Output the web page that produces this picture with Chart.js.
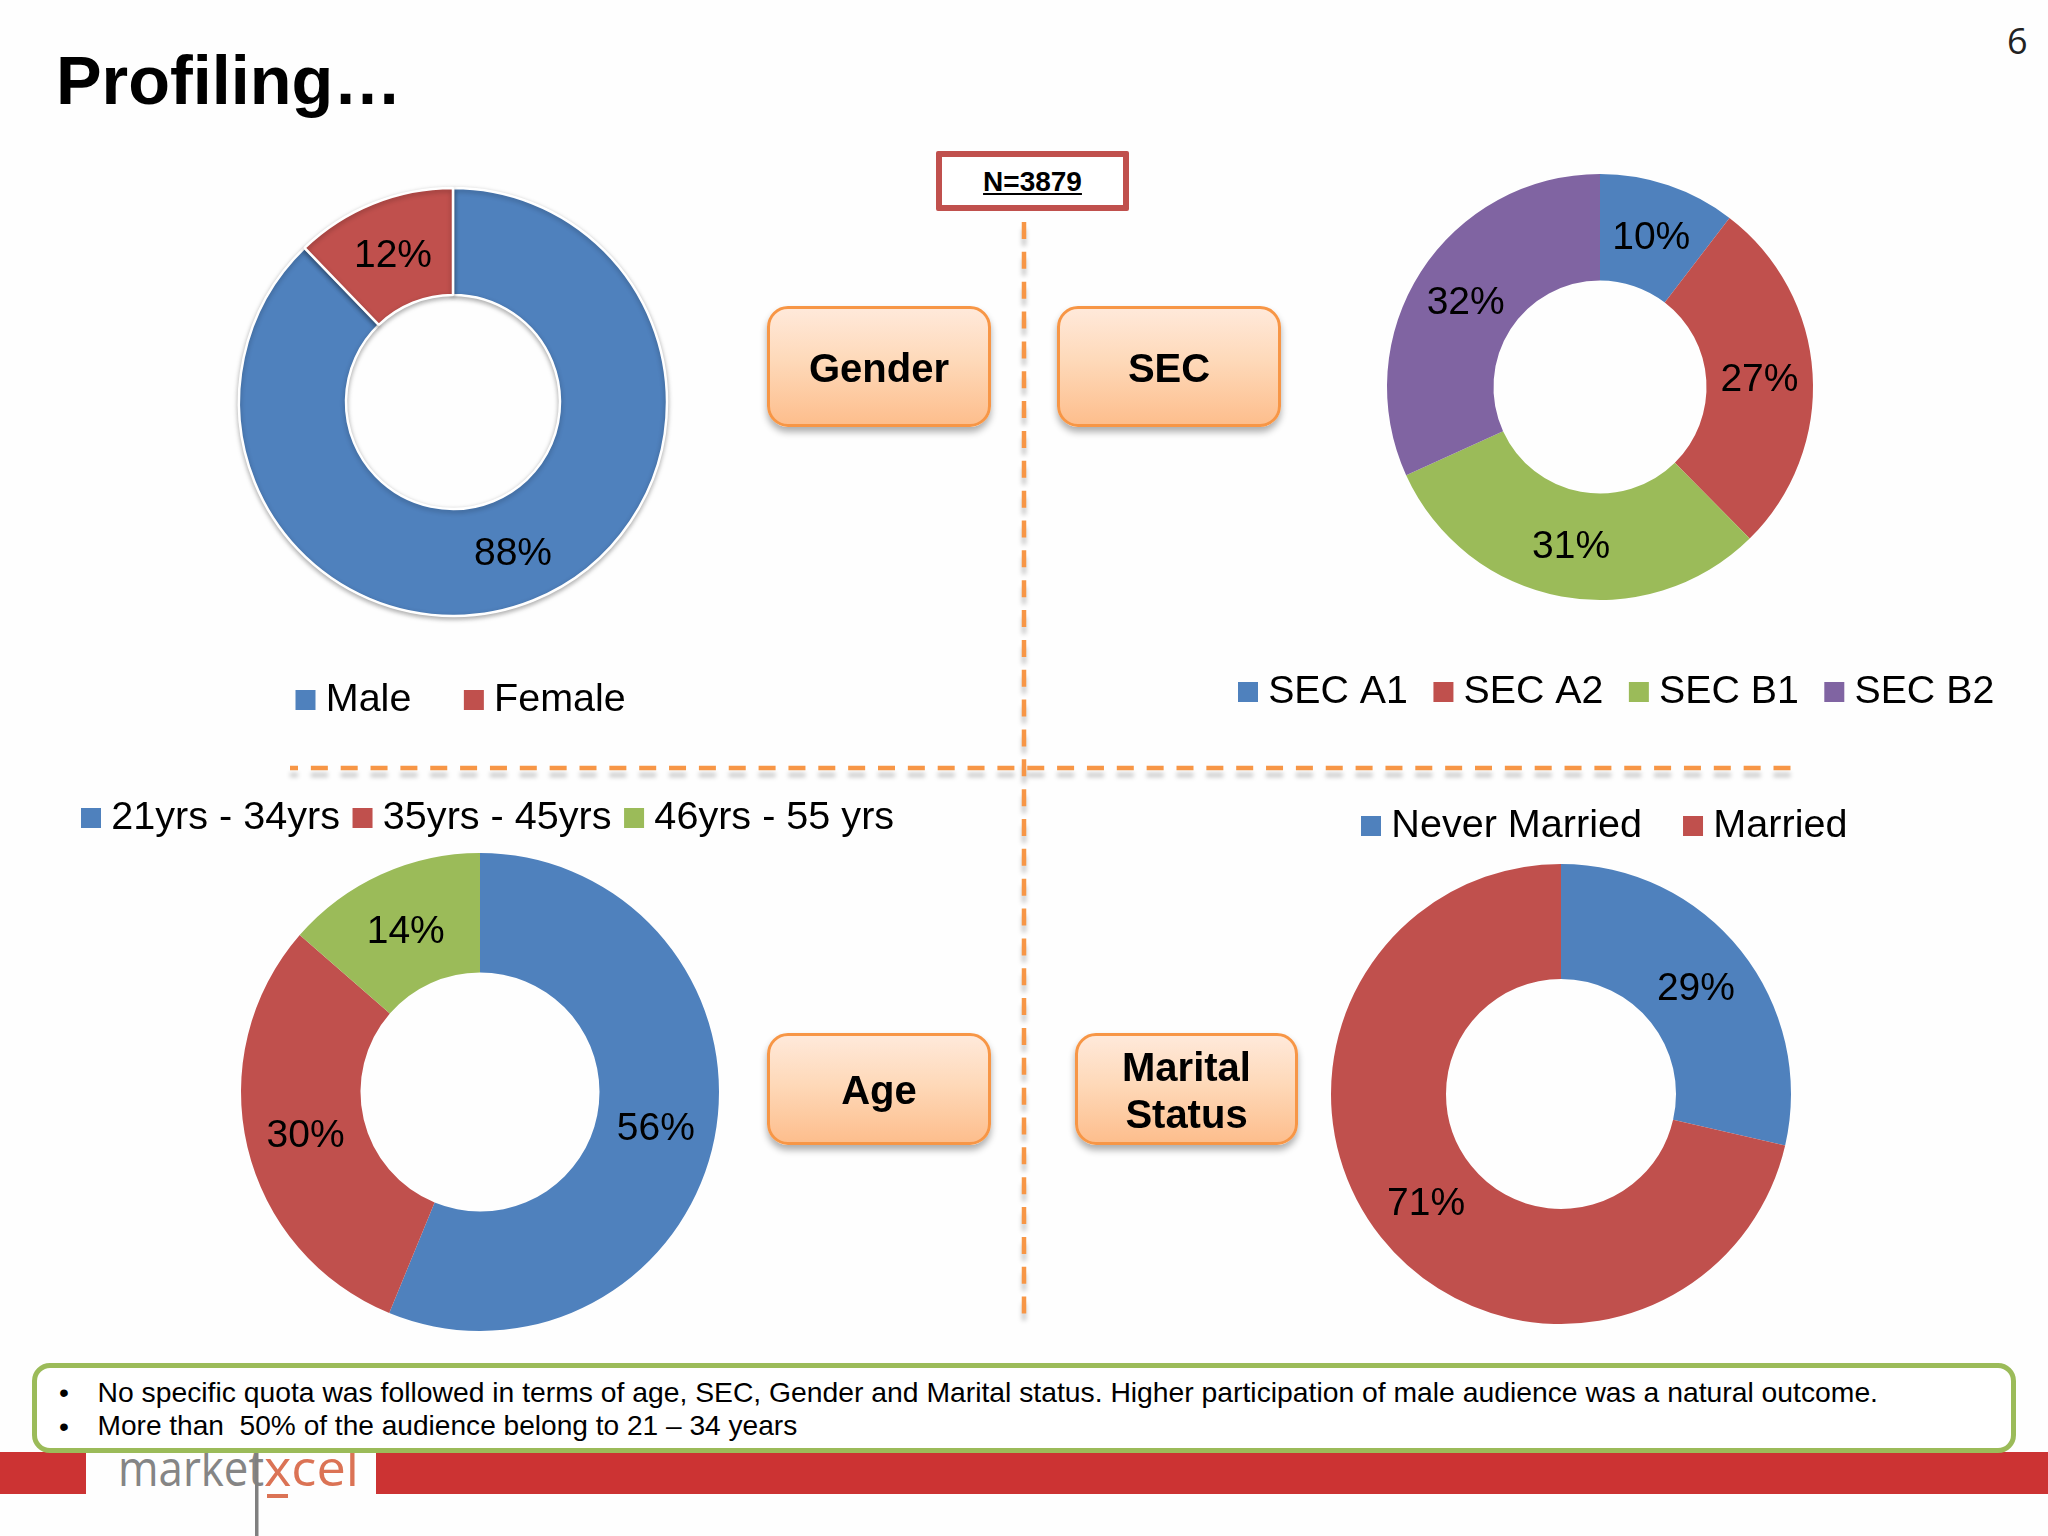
<!DOCTYPE html>
<html>
<head>
<meta charset="utf-8">
<script src="https://cdn.jsdelivr.net/npm/chart.js@4"></script>
<style>
html,body{margin:0;padding:0;background:#fefefe;}
#page{position:relative;width:2048px;height:1536px;overflow:hidden;background:#fefefe;font-family:"Liberation Sans",Arial,sans-serif;color:#000;}
#page>*{position:absolute;}
canvas{display:block;}
.chartbox{z-index:2;}
.title{left:56px;top:40px;font-size:68.4px;font-weight:bold;line-height:80px;white-space:nowrap;}
.pageno{left:2007px;top:17px;font-family:"Open Sans",sans-serif;font-size:36px;line-height:48px;color:#222;}
.nbox{left:936px;top:151px;width:193px;height:60px;box-sizing:border-box;border:6px solid #C0504D;background:#fff;display:flex;align-items:center;justify-content:center;font-size:28px;font-weight:bold;text-decoration:underline;border-radius:2px;z-index:3;padding-top:2px;}
.tag{box-sizing:border-box;border:3.5px solid #F79646;border-radius:21px;background:linear-gradient(180deg,#FFE9DA 0%,#FED9B9 45%,#FDBE8D 100%);box-shadow:0 5px 7px rgba(0,0,0,.32);display:flex;align-items:center;justify-content:center;text-align:center;font-size:40px;line-height:47px;font-weight:bold;z-index:3;padding-top:3px;}
.lines{left:0;top:0;width:2048px;height:1536px;filter:drop-shadow(0 7px 2px rgba(0,0,0,.2));z-index:1;}
.band{left:0;top:1452px;width:2048px;height:42px;background:#CC3333;z-index:1;}
.logobg{left:86px;top:1452px;width:290px;height:42px;background:#fefefe;z-index:1;}
.logo{left:0;top:0;width:2048px;height:1536px;z-index:2;}
.note{left:32px;top:1363px;width:1984px;height:90px;box-sizing:border-box;border:5px solid #9BBB59;border-radius:18px;background:#fff;z-index:4;}
.note div{position:absolute;font-size:28.3px;line-height:34px;white-space:pre;}
</style>
</head>
<body>
<div id="page">
  <div class="title">Profiling…</div>
  <div class="pageno">6</div>
  <svg class="lines" viewBox="0 0 2048 1536">
    <line x1="1024" y1="222" x2="1024" y2="1314" stroke="#F79646" stroke-width="4.5" stroke-dasharray="17 12.85"/>
    <line x1="290" y1="768" x2="1792" y2="768" stroke="#F79646" stroke-width="4.5" stroke-dasharray="17 12.85" stroke-dashoffset="9"/>
  </svg>
  <div class="nbox">N=3879</div>
  <div class="tag" style="left:767px;top:306px;width:224px;height:121px;">Gender</div>
  <div class="tag" style="left:1057px;top:306px;width:224px;height:121px;">SEC</div>
  <div class="tag" style="left:767px;top:1033px;width:224px;height:112px;">Age</div>
  <div class="tag" style="left:1075px;top:1033px;width:223px;height:112px;">Marital<br>Status</div>
  <div class="band"></div>
  <div class="logobg"></div>
  <svg class="logo" viewBox="0 0 2048 1536">
    <text x="118" y="1486" font-family="Open Sans" font-size="50" font-weight="400" fill="#858585" textLength="146" lengthAdjust="spacingAndGlyphs">market</text>
    <text x="264" y="1486" font-family="Open Sans" font-size="50" font-weight="400" fill="#DB7355" textLength="95" lengthAdjust="spacingAndGlyphs">xcel</text>
    <rect x="267" y="1494" width="21" height="4" fill="#DB7355"/>
    <rect x="255" y="1452" width="3.5" height="84" fill="#808080"/>
  </svg>
  <div class="note">
    <div style="left:22px;top:7px;">•</div>
    <div style="left:60.5px;top:7px;">No specific quota was followed in terms of age, SEC, Gender and Marital status. Higher participation of male audience was a natural outcome.</div>
    <div style="left:22px;top:41px;">•</div>
    <div style="left:60.5px;top:41px;font-size:28.1px;">More than  50% of the audience belong to 21 – 34 years</div>
  </div>
  <div class="chartbox" style="left:0;top:100px;"><canvas id="cGender" width="1024" height="668"></canvas></div>
  <div class="chartbox" style="left:1024px;top:100px;"><canvas id="cSec" width="1024" height="668"></canvas></div>
  <div class="chartbox" style="left:0;top:770px;"><canvas id="cAge" width="1024" height="590"></canvas></div>
  <div class="chartbox" style="left:1024px;top:770px;"><canvas id="cMarital" width="1024" height="590"></canvas></div>
</div>
<script>
const genderLabels = ['Male', 'Female'];
const genderValues = [87.8, 12.2];
const secLabels = ['SEC A1', 'SEC A2', 'SEC B1', 'SEC B2'];
const secValues = [10.4, 27.2, 30.6, 31.8];
const ageLabels = ['21yrs - 34yrs', '35yrs - 45yrs', '46yrs - 55 yrs'];
const ageValues = [56.2, 30.2, 13.6];
const maritalLabels = ['Never Married', 'Married'];
const maritalValues = [28.6, 71.4];
const palette = ['#4F81BD', '#C0504D', '#9BBB59', '#8064A2'];

Chart.defaults.font.family = '"Liberation Sans", Arial, sans-serif';
const LABEL_FONT = 39, MARK = 19;

const placePlugin = {
  id: 'place',
  afterLayout(chart, args, o) {
    const lab = chart.options.plugins.legend.labels;
    const pad = lab.padding, fs = lab.font.size;
    const half = o.r + (o.border || 0) / 2;
    chart.chartArea = {left: o.cx - half, right: o.cx + half, top: o.cy - half, bottom: o.cy + half, width: half * 2, height: half * 2};
    const lg = chart.legend;
    const w = lg.width, h = lg.height;
    lg.left = o.lx + MARK / 2 - pad;
    lg.right = lg.left + w;
    lg.top = o.ly - pad - fs / 2;
    lg.bottom = lg.top + h;
  },
  beforeDatasetsDraw(chart, args, o) {
    if (o.shadow) {
      const c = chart.ctx;
      c.save();
      c.shadowColor = 'rgba(0,0,0,.3)';
      c.shadowBlur = 5;
      c.shadowOffsetY = 2;
    }
  },
  afterDatasetsDraw(chart, args, o) {
    if (o.shadow) chart.ctx.restore();
    const c = chart.ctx;
    c.save();
    c.font = LABEL_FONT + 'px "Liberation Sans", Arial, sans-serif';
    c.fillStyle = '#000';
    c.textAlign = 'center';
    c.textBaseline = 'middle';
    const values = chart.data.datasets[0].data;
    chart.getDatasetMeta(0).data.forEach((arc, i) => {
      const p = arc.getCenterPoint();
      c.fillText(Math.round(values[i]) + '%', p.x, p.y + 3);
    });
    c.restore();
  }
};

function donut(id, labels, values, place, legendPos, gap, fontSize, border) {
  return new Chart(document.getElementById(id), {
    type: 'doughnut',
    data: {labels: labels, datasets: [{data: values, backgroundColor: palette.slice(0, values.length), borderWidth: border || 0, borderColor: '#ffffff', hoverOffset: 0}]},
    plugins: [placePlugin],
    options: {
      responsive: false,
      animation: false,
      events: [],
      cutout: '50%',
      plugins: {
        tooltip: {enabled: false},
        place: Object.assign({border: border || 0}, place),
        legend: {
          position: legendPos,
          align: 'start',
          labels: {
            boxWidth: 1,
            boxHeight: 1,
            padding: gap,
            color: '#000',
            font: {size: fontSize},
            generateLabels: ch => ch.data.labels.map((t, i) => ({
              text: t, fillStyle: palette[i], strokeStyle: palette[i], lineWidth: MARK, hidden: false, index: i
            }))
          }
        }
      }
    }
  });
}

donut('cGender', genderLabels, genderValues, {cx: 453, cy: 302, r: 214, lx: 295.5, ly: 600, shadow: true}, 'bottom', 62, 39.5, 2.5);
donut('cSec', secLabels, secValues, {cx: 576, cy: 287, r: 213, lx: 214, ly: 592}, 'bottom', 35, 39.3);
donut('cAge', ageLabels, ageValues, {cx: 480, cy: 322, r: 239, lx: 81, ly: 48}, 'top', 22, 39.6);
donut('cMarital', maritalLabels, maritalValues, {cx: 537, cy: 324, r: 230, lx: 337, ly: 56}, 'top', 50.5, 39.6);
</script>
</body>
</html>
